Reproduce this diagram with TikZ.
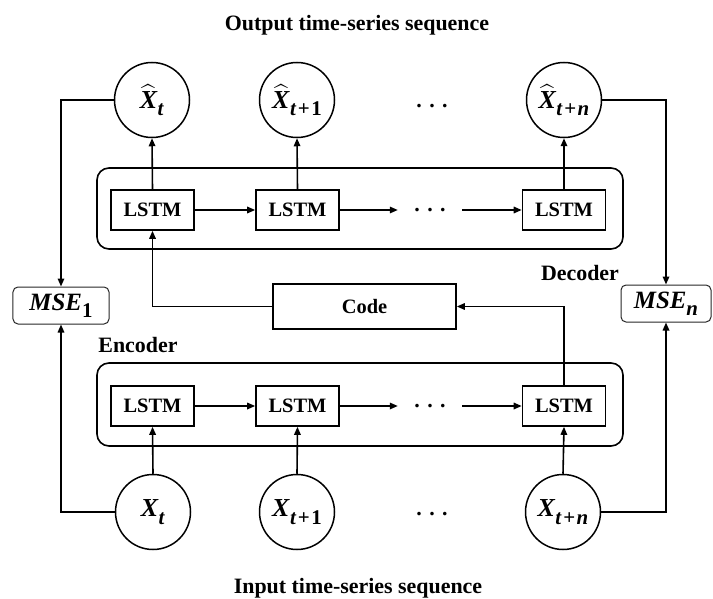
\RequirePackage{fix-cm}
\documentclass[tikz,border=0pt]{standalone}
\usepackage{amsmath}
\usepackage{fontspec}
\setmainfont{Liberation Serif}
\usetikzlibrary{arrows.meta}

\tikzset{
  lbl/.style={font=\fontsize{22}{26}\selectfont\bfseries, inner sep=0},
  cell/.style={draw, line width=1.6bp, minimum width=83bp, minimum height=40bp,
    inner sep=0, font=\fontsize{20.5}{24}\selectfont\bfseries},
  seqnode/.style={draw, circle, line width=1.5bp, minimum size=75bp, inner sep=0,
    font=\fontsize{26}{30}\selectfont},
  msebox/.style={draw=black!85, rounded corners=5bp, line width=1bp,
    minimum height=37bp, inner sep=0, font=\fontsize{25}{28}\selectfont},
  codebox/.style={draw, line width=1.6bp, minimum width=183bp, minimum height=45bp,
    inner sep=0, font=\fontsize{20.5}{24}\selectfont\bfseries},
  group/.style={draw, line width=1.6bp, rounded corners=12bp},
  dotsnode/.style={minimum width=64bp, inner sep=0,
    font=\fontsize{22}{26}\selectfont\bfseries},
  arr/.style={line width=1.6bp, -{Triangle[length=8bp,width=6.5bp]}}
}
\newcommand{\gap}{\hspace{7.5bp}}
\newcommand{\subfont}{\fontsize{21}{24}\selectfont\bfseries}
\newcommand{\bitX}{\textbf{\textit{X}}}
\newcommand{\splus}{\kern1.5bp+\kern1.5bp}
% symbol with a bold subscript, plain and hatted
\newcommand{\xsym}[1]{\bitX\raisebox{-0.28em}{\subfont #1}}
\newcommand{\xhatsym}[1]{$\widehat{\mbox{\bitX}}$\raisebox{-0.28em}{\subfont #1}}
\newcommand{\msesym}[1]{\textbf{\textit{MSE}}\raisebox{-0.28em}{\subfont #1}}

\begin{document}
\begin{tikzpicture}[x=1bp,y=-1bp]
\useasboundingbox (0,0) rectangle (713,599);

% titles and group labels
\node[lbl] (outtitle) at (357,25) {Output time-series sequence};
\node[lbl] (intitle) at (358,588) {Input time-series sequence};
\node[lbl] (declabel) at (580,273) {Decoder};
\node[lbl] (enclabel) at (138,345) {Encoder};

% encoder and decoder frames
\draw[group] (97,168) rectangle (623,249);
\draw[group] (97,363) rectangle (623,446);

% output sequence
\node[seqnode] (xh1) at (152,100) {\xhatsym{\textit{t}}};
\node[seqnode] (xh2) at (297,100) {\xhatsym{\textit{t}\splus 1}};
\node[seqnode] (xhn) at (564,100) {\xhatsym{\textit{t}\splus\textit{n}}};
\node[dotsnode] (odots) at (432,106) {.\gap.\gap.};

% decoder cells
\node[cell] (d1) at (152.5,210) {LSTM};
\node[cell] (d2) at (297.5,210) {LSTM};
\node[cell] (d3) at (564,210) {LSTM};
\node[dotsnode] (ddots) at (430,210) {.\gap.\gap.};

% code and losses
\node[codebox] (code) at (364.5,306.5) {Code};
\node[msebox, minimum width=96bp] (mse1) at (61,305.5) {\msesym{1}};
\node[msebox, minimum width=90bp] (msen) at (666,303.5) {\msesym{\textit{n}}};

% encoder cells
\node[cell] (e1) at (152.5,406) {LSTM};
\node[cell] (e2) at (297.5,406) {LSTM};
\node[cell] (e3) at (564,406) {LSTM};
\node[dotsnode] (edots) at (430,406) {.\gap.\gap.};

% input sequence
\node[seqnode] (x1) at (153,512) {\xsym{\textit{t}}};
\node[seqnode] (x2) at (297,512) {\xsym{\textit{t}\splus 1}};
\node[seqnode] (xn) at (563,512) {\xsym{\textit{t}\splus\textit{n}}};
\node[dotsnode] (idots) at (432,514) {.\gap.\gap.};

% encoder flow
\draw[arr] (x1.north) -- (e1.south);
\draw[arr] (x2.north) -- (e2.south);
\draw[arr] (xn.north) -- (e3.south);
\draw[arr] (e1.east) -- (e2.west);
\draw[arr] (e2.east) -- (edots.west);
\draw[arr] (edots.east) -- (e3.west);
\draw[arr] (e3.north) |- (code.east);

% decoder flow
\draw[arr] (code.west) -| (d1.south);
\draw[arr] (d1.east) -- (d2.west);
\draw[arr] (d2.east) -- (ddots.west);
\draw[arr] (ddots.east) -- (d3.west);
\draw[arr] (d1.north) -- (xh1.south);
\draw[arr] (d2.north) -- (xh2.south);
\draw[arr] (d3.north) -- (xhn.south);

% reconstruction losses
\draw[arr] (xh1.west) -| (mse1.north);
\draw[arr] (x1.west) -| (mse1.south);
\draw[arr] (xhn.east) -| (msen.north);
\draw[arr] (xn.east) -| (msen.south);
\end{tikzpicture}
\end{document}
